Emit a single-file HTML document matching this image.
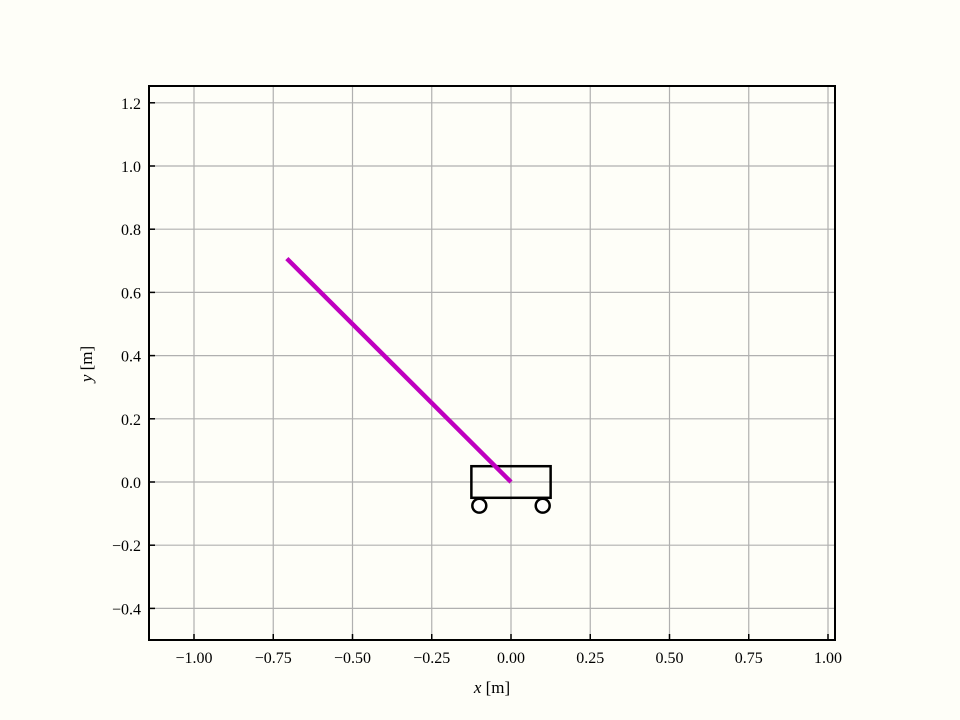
<!DOCTYPE html>
<html><head><meta charset="utf-8"><style>
body{margin:0;background:#fefef8;}
svg{display:block;font-family:"Liberation Serif",serif;}
</style></head><body>
<svg id="chart" width="960" height="720" viewBox="0 0 960 720">
<rect x="0" y="0" width="960" height="720" fill="#fefef8"/>
<g id="grid"></g>
<g id="ticks"></g>
<g id="marks"></g>
<rect x="149" y="86" width="686" height="554" fill="none" stroke="#000" stroke-width="2"/>
<text x="492" y="693" font-size="17" text-anchor="middle"><tspan font-style="italic">x</tspan> [m]</text>
<text transform="translate(92,364) rotate(-90)" font-size="17" text-anchor="middle"><tspan font-style="italic">y</tspan> [m]</text>
</svg>
<script>
const xTicks=[-1.00,-0.75,-0.50,-0.25,0.00,0.25,0.50,0.75,1.00];
const xTickLabels=["−1.00","−0.75","−0.50","−0.25","0.00","0.25","0.50","0.75","1.00"];
const yTicks=[-0.4,-0.2,0.0,0.2,0.4,0.6,0.8,1.0,1.2];
const yTickLabels=["−0.4","−0.2","0.0","0.2","0.4","0.6","0.8","1.0","1.2"];
const cartX=[0.0];
const cartWidth=[0.25];
const cartHeight=[0.1];
const wheelOffsets=[-0.1,0.1];
const wheelY=[-0.075];
const wheelR=[0.022];
const poleAngleDeg=[45];
const poleLength=[1.0];

const NS="http://www.w3.org/2000/svg";
const L=149,R=835,T=86,B=640;
function sx(v){return 511+v*317;}
function sy(v){return 482-v*316;}
function mk(tag,attrs,parent){const e=document.createElementNS(NS,tag);for(const k in attrs)e.setAttribute(k,attrs[k]);parent.appendChild(e);return e;}
const grid=document.getElementById('grid'),ticks=document.getElementById('ticks'),marks=document.getElementById('marks');
xTicks.forEach((v,i)=>{
  const x=sx(v);
  const g=mk('line',{x1:x,x2:x,y1:T,y2:B,stroke:'#b0b0b0','stroke-width':1.2},grid);
  
  
  const t=mk('line',{x1:x,x2:x,y1:B,y2:B-6,stroke:'#000','stroke-width':1.5},ticks);
  
  
  const tx=mk('text',{x:x,y:663,'font-size':16,'text-anchor':'middle'},ticks);
  tx.textContent=xTickLabels[i];
  
  
});
yTicks.forEach((v,i)=>{
  const y=sy(v);
  const g=mk('line',{x1:L,x2:R,y1:y,y2:y,stroke:'#b0b0b0','stroke-width':1.2},grid);
  
  
  const t=mk('line',{x1:L,x2:L+6,y1:y,y2:y,stroke:'#000','stroke-width':1.5},ticks);
  
  
  const tx=mk('text',{x:141,y:y+6,'font-size':16,'text-anchor':'end'},ticks);
  tx.textContent=yTickLabels[i];
  
  
});
const cx=cartX[0],w=cartWidth[0],h=cartHeight[0];
const cart=mk('rect',{x:sx(cx-w/2),y:sy(h/2),width:sx(cx+w/2)-sx(cx-w/2),height:sy(-h/2)-sy(h/2),fill:'none',stroke:'#000','stroke-width':2.5},marks);


wheelOffsets.forEach(o=>{
  const c=mk('circle',{cx:sx(cx+o),cy:sy(wheelY[0]),r:wheelR[0]*317,fill:'#fff',stroke:'#000','stroke-width':2.5},marks);
  
  
});
const a=poleAngleDeg[0]*Math.PI/180;
const px=cx-poleLength[0]*Math.sin(a),py=poleLength[0]*Math.cos(a);
const pole=mk('line',{x1:sx(cx),y1:sy(0),x2:sx(px),y2:sy(py),stroke:'#bf00bf','stroke-width':4.5},marks);


</script>
</body></html>
